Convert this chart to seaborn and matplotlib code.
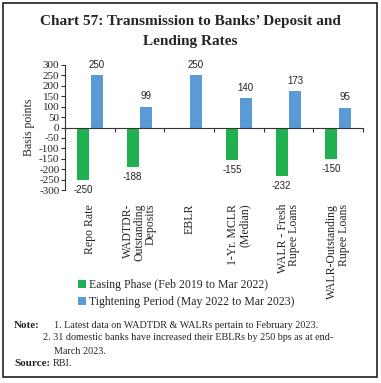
import numpy as np
import pandas as pd
import matplotlib
matplotlib.use("Agg")
import matplotlib.pyplot as plt
import seaborn as sns
from matplotlib.patches import Rectangle

# data
categories = ["Repo Rate", "WADTDR-\nOutstanding\nDeposits", "EBLR",
              "1-Yr. MCLR\n(Median)", "WALR - Fresh\nRupee Loans",
              "WALR-Outstanding\nRupee Loans"]
easing = [-250, -188, 0, -155, -232, -150]
tightening = [250, 99, 250, 140, 173, 95]
phases = ["Easing Phase (Feb 2019 to Mar 2022)",
          "Tightening Period (May 2022 to Mar 2023)"]
yticks = list(range(-300, 301, 50))

green = "#1FB14F"
blue = "#5B9BD5"
serif = "Liberation Serif"

df = pd.DataFrame({
    "category": categories * 2,
    "phase": [phases[0]] * len(categories) + [phases[1]] * len(categories),
    "value": easing + tightening,
})
# EBLR has no easing bar
df = df[~((df["phase"] == phases[0]) & (df["value"] == 0))]

sns.set_style("white")
fig = plt.figure(figsize=(3.81, 3.83), dpi=100)
W, H = 381, 383
ax = fig.add_axes([65 / W, 1 - 190 / H, 298 / W, 125 / H])

sns.barplot(data=df, x="category", y="value", hue="phase", order=categories,
            hue_order=phases, palette=[green, blue], saturation=1,
            width=0.55, gap=0.1, linewidth=0, ax=ax)

for cont in ax.containers:
    ax.bar_label(cont, fmt="%d", padding=4, fontsize=7, family="Liberation Sans",
                 color="#222222")

ax.set_xlim(-0.5, len(categories) - 0.5)
ax.set_ylim(-300, 300)
ax.set_yticks(yticks)
ax.set_yticklabels([str(v) for v in yticks], family=serif, fontsize=8)
ax.set_xticks(np.arange(-0.5, len(categories), 1))
ax.set_xticklabels([])
ax.tick_params(axis="y", length=3, width=0.8, pad=1, left=True, color="#333333")
ax.tick_params(axis="x", length=3, width=0.8, bottom=True, direction="out", color="#333333")
ax.set_xlabel("")
ax.set_ylabel("Basis points", family=serif, fontsize=8.5, labelpad=3)

for s in ["top", "right"]:
    ax.spines[s].set_visible(False)
ax.spines["bottom"].set_position(("data", 0))
ax.spines["left"].set_color("#333333")
ax.spines["bottom"].set_color("#333333")
ax.spines["left"].set_linewidth(0.8)
ax.spines["bottom"].set_linewidth(0.8)

# category labels below the plot
for i, lab in enumerate(categories):
    ax.text(i, -0.11, lab, transform=ax.get_xaxis_transform(), rotation=90,
            ha="center", va="top", multialignment="right", family=serif,
            fontsize=8.5, linespacing=0.95)

sns.move_legend(ax, loc="upper left", bbox_to_anchor=(78 / W, 1 - 279 / H),
                bbox_transform=fig.transFigure, frameon=False, title=None,
                prop={"family": serif, "size": 8.5}, handlelength=0.7,
                handleheight=0.7, handletextpad=0.2, labelspacing=0.45,
                borderpad=0, borderaxespad=0)

# title
fig.text(0.5, 1 - 21 / H, "Chart 57: Transmission to Banks\u2019 Deposit and",
         ha="center", va="center", fontsize=11, weight="bold", family=serif)
fig.text(0.5, 1 - 41 / H, "Lending Rates", ha="center", va="center",
         fontsize=11, weight="bold", family=serif)

# notes
note_kw = dict(va="center", fontsize=7.3, family=serif)
fig.text(14 / W, 1 - 325 / H, "Note:", weight="bold", va="center", fontsize=8, family=serif)
fig.text(54 / W, 1 - 325 / H, "1. Latest data on WADTDR & WALRs pertain to February 2023.", **note_kw)
fig.text(43 / W, 1 - 338 / H, "2. 31 domestic banks have increased their EBLRs by 250 bps as at end-", **note_kw)
fig.text(54 / W, 1 - 351 / H, "March 2023.", **note_kw)
fig.text(14 / W, 1 - 364 / H, "Source:", weight="bold", va="center", fontsize=8, family=serif)
fig.text(53 / W, 1 - 364 / H, "RBI.", **note_kw)

# frame around the whole chart
fig.add_artist(Rectangle((3 / W, 1 - 377 / H), 374 / W, 374 / H,
                         transform=fig.transFigure, fill=False, lw=1.2,
                         edgecolor="#222222"))

fig.savefig("out.png", dpi=100)
